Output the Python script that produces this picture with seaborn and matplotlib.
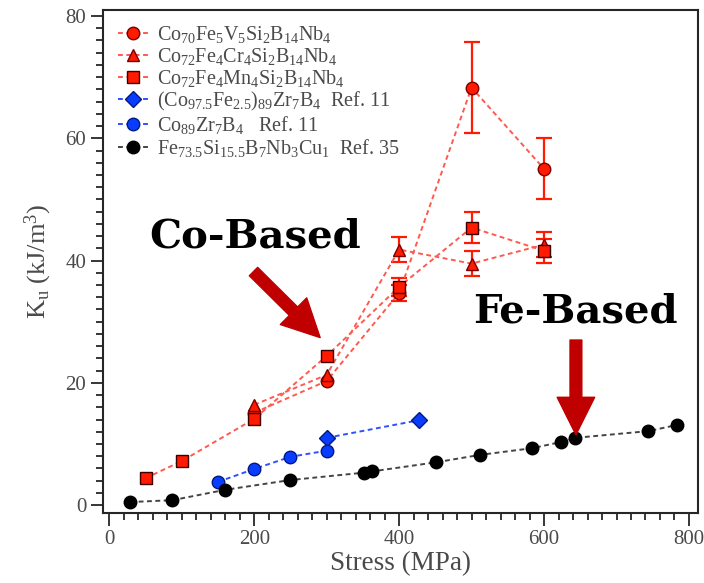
import numpy as np
import pandas as pd
import seaborn as sns
import matplotlib
matplotlib.use('Agg')
import matplotlib.pyplot as plt
from matplotlib.ticker import MultipleLocator

# Co-based alloys (this work)
v_x = [200, 300, 400, 500, 600]
v_y = [15.1, 20.3, 34.7, 68.3, 55.0]
v_err = [0, 0, 1.3, 7.5, 5.0]

cr_x = [200, 300, 400, 500, 600]
cr_y = [16.4, 21.3, 41.8, 39.5, 42.6]
cr_err = [0, 0, 2.0, 2.0, 2.0]

mn_x = [50, 100, 200, 300, 400, 500, 600]
mn_y = [4.4, 7.2, 14.1, 24.4, 35.7, 45.4, 41.6]
mn_err = [0, 0, 0, 0, 1.5, 2.5, 2.0]

# reference data
cofe_x = [300, 428]
cofe_y = [11.0, 13.9]

cozr_x = [150, 200, 250, 300]
cozr_y = [3.8, 5.9, 7.9, 8.9]

fe_x = [29, 87, 160, 250, 351, 362, 451, 511, 583, 623, 643, 744, 783]
fe_y = [0.5, 0.8, 2.5, 4.1, 5.3, 5.5, 7.0, 8.2, 9.3, 10.3, 11.0, 12.1, 13.1]

labels = [
    r'Co$_{70}$Fe$_5$V$_5$Si$_2$B$_{14}$Nb$_4$',
    r'Co$_{72}$Fe$_4$Cr$_4$Si$_2$B$_{14}$Nb$_4$',
    r'Co$_{72}$Fe$_4$Mn$_4$Si$_2$B$_{14}$Nb$_4$',
    r'(Co$_{97.5}$Fe$_{2.5}$)$_{89}$Zr$_7$B$_4$  Ref. 11',
    r'Co$_{89}$Zr$_7$B$_4$   Ref. 11',
    r'Fe$_{73.5}$Si$_{15.5}$B$_7$Nb$_3$Cu$_1$  Ref. 35',
]

sns.set_style('ticks')
plt.rcParams['font.family'] = ['Liberation Serif', 'DejaVu Serif']
plt.rcParams['mathtext.default'] = 'regular'

red = '#ff1a00'
red_line = '#ff5a50'
blue = '#0a3cff'
dark_red = '#c00000'
grey = '#4a4a4a'

f = plt.figure(figsize=(7.04, 5.83), dpi=100)
ax = f.add_axes([0.147, 0.12, 0.844, 0.863])

series = [
    (v_x, v_y, 'o', red, red_line, '#7a0000', 9),
    (cr_x, cr_y, '^', red, red_line, '#7a0000', 9),
    (mn_x, mn_y, 's', red, red_line, '#3a0000', 9),
    (cofe_x, cofe_y, 'D', blue, '#3050ff', '#001a80', 8),
    (cozr_x, cozr_y, 'o', blue, '#3050ff', '#001a80', 9),
    (fe_x, fe_y, 'o', 'black', '#444444', 'black', 9),
]
for (x, y, mk, fc, lc, ec, ms), lab in zip(series, labels):
    df = pd.DataFrame({'x': x, 'y': y})
    sns.lineplot(data=df, x='x', y='y', ax=ax, color=lc, linestyle=(0, (2.5, 1.8)),
                 linewidth=1.4, marker=mk, markersize=ms, markerfacecolor=fc,
                 markeredgecolor=ec, markeredgewidth=1.0, label=lab, zorder=3)

# error bars for this work
for x, y, e in [(v_x, v_y, v_err), (cr_x, cr_y, cr_err), (mn_x, mn_y, mn_err)]:
    x, y, e = np.array(x), np.array(y), np.array(e)
    m = e > 0
    ax.errorbar(x[m], y[m], yerr=e[m], fmt='none', ecolor=red, elinewidth=1.6,
                capsize=6, capthick=1.6, zorder=2)

ax.set_xlim(-8, 812)
ax.set_ylim(-1.3, 81)
ax.xaxis.set_major_locator(MultipleLocator(200))
ax.xaxis.set_minor_locator(MultipleLocator(20))
ax.yaxis.set_major_locator(MultipleLocator(20))
ax.yaxis.set_minor_locator(MultipleLocator(2))
ax.tick_params(which='major', length=9, width=1.3, direction='out',
               labelsize=15, labelcolor=grey)
ax.tick_params(which='minor', length=5, width=1.3, direction='out')
for s in ax.spines.values():
    s.set_linewidth(1.5)
    s.set_visible(True)

ax.set_xlabel('Stress (MPa)', fontsize=19.5, color=grey, labelpad=1)
ax.set_ylabel(r'K$_u$ (kJ/m$^3$)', fontsize=19, color=grey, labelpad=8)

leg = ax.legend(loc='upper left', frameon=False, fontsize=14.5, handlelength=1.5,
                handletextpad=0.45, labelspacing=0.05, borderaxespad=0.3,
                labelcolor=grey)

# annotations
ax.text(201, 43.9, 'Co-Based', fontsize=29, fontweight='bold', color='black',
        family='DejaVu Serif', ha='center', va='center')
ax.text(643, 31.6, 'Fe-Based', fontsize=29, fontweight='bold', color='black',
        family='DejaVu Serif', ha='center', va='center')
arrow = dict(facecolor=dark_red, edgecolor=dark_red, width=8.5, headwidth=27,
             headlength=27, shrink=0)
ax.annotate('', xy=(291, 27.4), xytext=(199, 38.2), arrowprops=arrow)
ax.annotate('', xy=(644, 11.5), xytext=(644, 27.0), arrowprops=arrow)

plt.savefig('out.png', dpi=100)
